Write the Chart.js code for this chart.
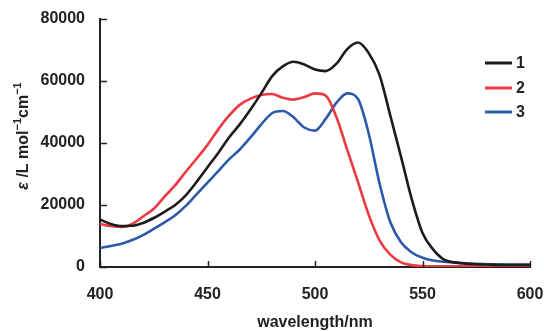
<!DOCTYPE html>
<html>
<head>
<meta charset="utf-8">
<script src="https://cdn.jsdelivr.net/npm/chart.js@4/dist/chart.umd.min.js"></script>
<style>
html,body{margin:0;padding:0;background:#fff;}
#wrap{width:544px;height:331px;position:relative;}
</style>
</head>
<body>
<div id="wrap"><canvas id="c" width="544" height="331"></canvas></div>
<script>
// ---- data ----
const wavelengths = [400,405,410,415,420,425,430,435,440,445,450,455,460,465,470,475,480,485,490,495,500,505,510,515,520,525,530,535,540,545,550,555,560,565,570,575,580,585,590,595,600];
const series1 = [15300,13900,13200,13300,14200,15800,17800,20000,23200,27500,32200,36800,41800,46000,50800,56000,61500,64700,66200,65300,63700,63200,65600,70300,72400,69000,62000,48900,35600,21900,11000,5600,2400,1500,1100,900,800,700,700,700,700];
const series2 = [13900,13200,12900,13900,16300,18800,22700,26400,30800,35000,39400,44400,48800,52300,54300,55500,55800,54600,54000,54800,56000,55300,48300,37800,27400,16800,8600,4000,1500,600,300,200,200,200,200,200,200,200,200,200,200];
const series3 = [6100,6800,7500,8700,10300,12300,14400,16700,19800,23500,27200,30900,34700,37900,41800,46000,49600,50300,48300,45000,44000,47800,53000,56000,54200,43000,27000,14500,8000,4700,3000,2100,1700,1400,1200,1000,900,800,700,700,700];
const seriesLabels = ['1','2','3'];
const xTicks = [400,450,500,550,600];
const yTicks = [0,20000,40000,60000,80000];
const xTitle = 'wavelength/nm';

const colors = ['#1c1c1c','#ec3a40','#2c5aa8'];
const FONT = '"Liberation Sans", Arial, Helvetica, sans-serif';

function toXY(vals){ return wavelengths.map((w,i)=>({x:w,y:vals[i]})); }

const tickPlugin = {
  id:'innerTicks',
  afterDraw(chart){
    const ctx = chart.ctx, xs = chart.scales.x, ys = chart.scales.y;
    const a = chart.chartArea;
    ctx.save();
    ctx.strokeStyle = '#222'; ctx.lineWidth = 1.5;
    xTicks.forEach(v=>{
      const px = Math.round(xs.getPixelForValue(v))+0.5;
      ctx.beginPath(); ctx.moveTo(px, a.bottom); ctx.lineTo(px, a.bottom-6); ctx.stroke();
    });
    yTicks.forEach(v=>{
      const py = Math.round(ys.getPixelForValue(v))+0.5;
      ctx.beginPath(); ctx.moveTo(a.left, py); ctx.lineTo(a.left+7, py); ctx.stroke();
    });
    // x title
    ctx.fillStyle = '#222';
    ctx.font = 'bold 16px ' + FONT;
    ctx.textAlign = 'center'; ctx.textBaseline = 'middle';
    ctx.fillText(xTitle, (a.left+a.right)/2, 323);
    // y title with italic epsilon and superscripts
    const segs = [
      {t:'ε', f:'italic bold 16px '+FONT, dy:0},
      {t:' /L mol', f:'bold 16px '+FONT, dy:0},
      {t:'−1', f:'bold 11px '+FONT, dy:-7},
      {t:'cm', f:'bold 16px '+FONT, dy:0},
      {t:'−1', f:'bold 11px '+FONT, dy:-7}
    ];
    let total = 0;
    segs.forEach(s=>{ ctx.font = s.f; s.w = ctx.measureText(s.t).width; total += s.w; });
    ctx.translate(28, 136);
    ctx.rotate(-Math.PI/2);
    ctx.textAlign = 'left'; ctx.textBaseline = 'alphabetic';
    let x = -total/2;
    segs.forEach(s=>{ ctx.font = s.f; ctx.fillText(s.t, x, s.dy); x += s.w; });
    ctx.restore();
    // legend
    ctx.save();
    const ly = [63, 88, 112];
    chart.data.datasets.forEach((d,i)=>{
      ctx.strokeStyle = d.borderColor; ctx.lineWidth = 3;
      ctx.beginPath(); ctx.moveTo(485, ly[i]); ctx.lineTo(512, ly[i]); ctx.stroke();
      ctx.fillStyle = '#222'; ctx.font = 'bold 16px ' + FONT;
      ctx.textAlign = 'left'; ctx.textBaseline = 'middle';
      ctx.fillText(d.label, 516, ly[i]+1);
    });
    ctx.restore();
  }
};

function zeroPad(s){ s.paddingLeft = 0; s.paddingRight = 0; s.paddingTop = 0; s.paddingBottom = 0; }

new Chart(document.getElementById('c'), {
  type:'line',
  data:{
    datasets:[series1,series2,series3].map((s,i)=>({
      label: seriesLabels[i],
      data: toXY(s),
      borderColor: colors[i],
      borderWidth: 2.6,
      pointRadius: 0,
      fill: false,
      cubicInterpolationMode: 'monotone'
    }))
  },
  options:{
    responsive:false,
    animation:false,
    layout:{padding:{left:0,right:14,top:19,bottom:0}},
    plugins:{legend:{display:false}, tooltip:{enabled:false}},
    scales:{
      x:{
        type:'linear', min:400, max:600,
        afterBuildTicks(s){ s.ticks = xTicks.map(v=>({value:v})); },
        afterFit(s){ s.height = 64; zeroPad(s); },
        grid:{display:true, drawOnChartArea:false, drawTicks:false},
        border:{display:true, color:'#222', width:2},
        ticks:{color:'#222', padding:18, maxRotation:0, font:{family:FONT, size:16, weight:'bold'}}
      },
      y:{
        type:'linear', min:0, max:80000,
        afterBuildTicks(s){ s.ticks = yTicks.map(v=>({value:v})); },
        afterFit(s){ s.width = 100; zeroPad(s); },
        grid:{display:true, drawOnChartArea:false, drawTicks:false},
        border:{display:true, color:'#222', width:2},
        ticks:{color:'#222', padding:15, font:{family:FONT, size:16, weight:'bold'}, callback:v=>String(v)}
      }
    }
  },
  plugins:[tickPlugin]
});
</script>
</body>
</html>
